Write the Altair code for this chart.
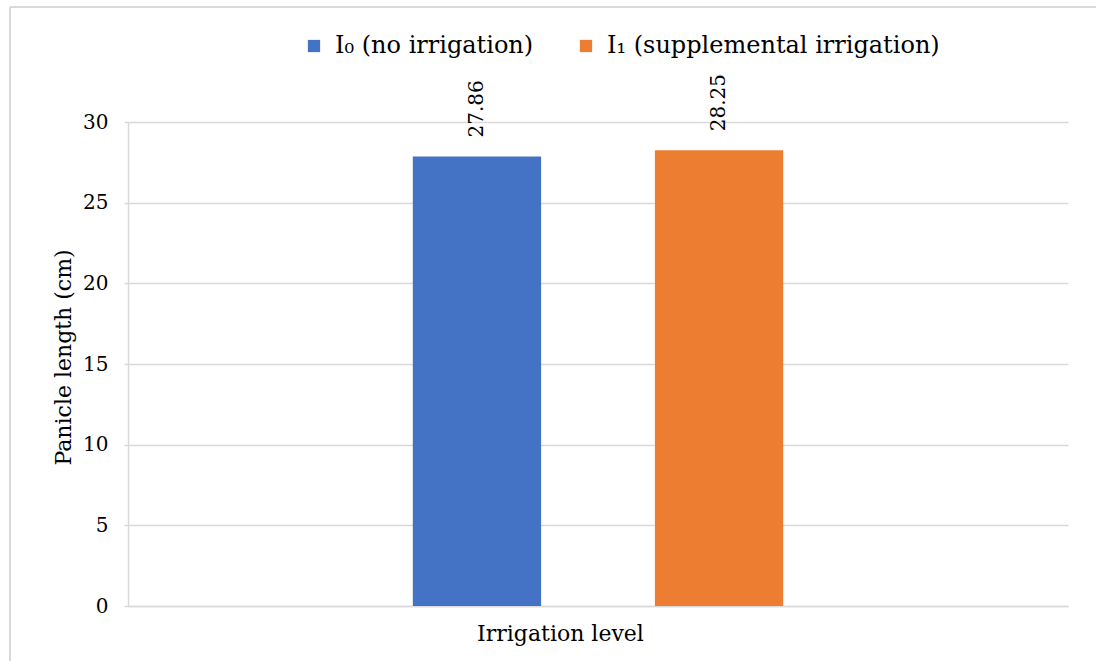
import altair as alt
import pandas as pd

# Panicle length by irrigation treatment
treatments = ["I₀ (no irrigation)", "I₁ (supplemental irrigation)"]
panicle_length = [27.86, 28.25]
bar_colors = ["#4472C4", "#ED7D31"]
y_ticks = [0, 5, 10, 15, 20, 25, 30]

df = pd.DataFrame({"treatment": treatments, "length": panicle_length})
df["group"] = "Irrigation level"
df["label"] = [f"{v:.2f}" for v in panicle_length]

FONT = "DejaVu Serif"
GRID = "#d9d9d9"

x_enc = alt.X(
    "group:N",
    scale=alt.Scale(paddingInner=0, paddingOuter=0.05),
    axis=alt.Axis(
        title="Irrigation level",
        labels=False,
        ticks=False,
        domain=True,
        domainColor=GRID,
        domainWidth=1.5,
        titleFont=FONT,
        titleFontSize=22,
        titleFontWeight="normal",
        titleColor="#000000",
        titleX=432,
        titleY=27,
        titleBaseline="middle",
        titleAlign="center",
    ),
)
xo_enc = alt.XOffset(
    "treatment:N",
    sort=treatments,
    scale=alt.Scale(paddingInner=0.47, paddingOuter=1),
)

y_enc = alt.Y(
    "length:Q",
    scale=alt.Scale(domain=[0, 30]),
    axis=alt.Axis(
        values=y_ticks,
        title="Panicle length (cm)",
        grid=True,
        gridColor=GRID,
        gridWidth=1.5,
        domain=True,
        domainColor=GRID,
        domainWidth=1.5,
        ticks=True,
        tickSize=4,
        tickColor=GRID,
        tickWidth=1.5,
        labelFont=FONT,
        labelFontSize=20,
        labelColor="#000000",
        labelPadding=16,
        titleFont=FONT,
        titleFontSize=22,
        titleFontWeight="normal",
        titleColor="#000000",
        titleAngle=270,
        titleX=-65,
        titleY=235,
        titleAlign="center",
        titleBaseline="middle",
    ),
)

bars = alt.Chart(df).mark_bar().encode(
    x=x_enc,
    xOffset=xo_enc,
    y=y_enc,
    color=alt.Color(
        "treatment:N",
        sort=treatments,
        scale=alt.Scale(domain=treatments, range=bar_colors),
        legend=alt.Legend(
            title=None,
            orient="none",
            legendX=174,
            legendY=-88,
            direction="horizontal",
            symbolType="square",
            symbolSize=150,
            symbolStrokeWidth=0,
            labelFont=FONT,
            labelFontSize=24,
            labelColor="#000000",
            labelLimit=0,
            columnPadding=40,
            labelOffset=9,
        ),
    ),
)

labels = alt.Chart(df).mark_text(
    angle=270,
    align="left",
    baseline="middle",
    dx=19,
    font=FONT,
    fontSize=20,
    color="#000000",
).encode(
    x=alt.X("group:N"),
    xOffset=alt.XOffset("treatment:N", sort=treatments),
    y=alt.Y("length:Q"),
    text="label:N",
)

# Chart-area frame (top and left edges)
frame_top = alt.Chart(alt.Data(values=[{}])).mark_rule(color=GRID, strokeWidth=2).encode(
    x=alt.value(-118), x2=alt.value(1000), y=alt.value(-115)
)
frame_left = alt.Chart(alt.Data(values=[{}])).mark_rule(color=GRID, strokeWidth=2).encode(
    x=alt.value(-118), y=alt.value(-115), y2=alt.value(600)
)

chart = (
    alt.layer(bars, labels, frame_top, frame_left)
    .properties(
        width=940,
        height=484,
        autosize=alt.AutoSizeParams(type="none"),
        padding={"left": 128, "top": 122, "right": 28, "bottom": 55},
        background="white",
    )
    .configure_view(stroke=None)
)

chart.save("out.html", embed_options={"renderer": "svg", "actions": False})
